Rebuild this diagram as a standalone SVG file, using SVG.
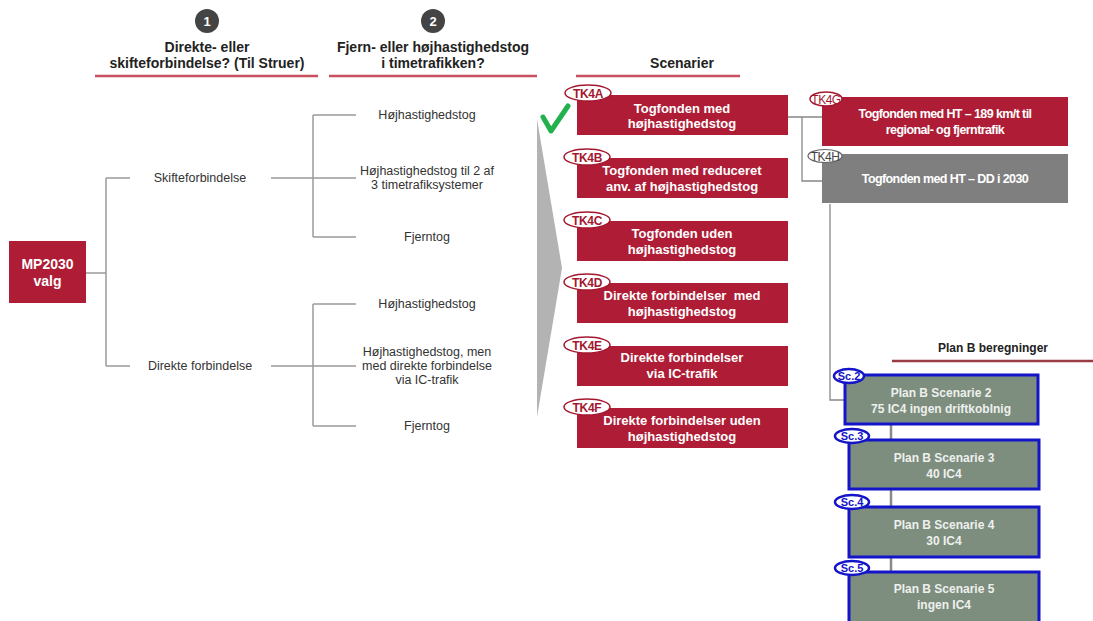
<svg xmlns="http://www.w3.org/2000/svg" width="1093" height="621" viewBox="0 0 1093 621">
<style>
.hd{font-family:"Liberation Sans",Arial,sans-serif;font-weight:bold;font-size:14px;fill:#222;text-anchor:middle}
.tr{font-family:"Liberation Sans",Arial,sans-serif;font-size:12.5px;fill:#333;text-anchor:middle}
.bx{font-family:"Liberation Sans",Arial,sans-serif;font-weight:bold;font-size:13px;fill:#fff;text-anchor:middle}
.bxn{font-family:"Liberation Sans",Arial,sans-serif;font-weight:bold;font-size:12.5px;fill:#fff;text-anchor:middle;letter-spacing:-0.6px}
.pb{font-family:"Liberation Sans",Arial,sans-serif;font-weight:bold;font-size:12px;fill:#eef0ee;text-anchor:middle}
.red{fill:#ae1c35}
.lbl{fill:#fff;stroke:#a3182f;stroke-width:1.5}
.lblt{font-family:"Liberation Sans",Arial,sans-serif;font-weight:bold;font-size:12px;fill:#a3182f;text-anchor:middle;letter-spacing:-0.3px}
.sc{fill:#7d8e7e;stroke:#1414c8;stroke-width:3}
.scl{fill:#fff;stroke:#1414c8;stroke-width:2.5}
.sclt{font-family:"Liberation Sans",Arial,sans-serif;font-weight:bold;font-size:11px;fill:#1414c8;text-anchor:middle}
.ln{fill:none;stroke:#9a9a9a;stroke-width:1.5}
.ln2{fill:none;stroke:#888;stroke-width:1.3}
.ul{stroke:#c8505f;stroke-width:2.5}
</style>
<rect width="1093" height="621" fill="#fff"/>

<g id="header1">
<circle cx="207" cy="21" r="12" fill="#444"/>
<text x="207" y="26" font-family="Liberation Sans,Arial,sans-serif" font-weight="bold" font-size="13" fill="#fff" text-anchor="middle">1</text>
<text class="hd" x="207" y="52">Direkte- eller</text>
<text class="hd" x="207" y="68">skifteforbindelse? (Til Struer)</text>
<line class="ul" x1="95" y1="76" x2="318" y2="76"/>
</g>
<g id="header2">
<circle cx="433" cy="21" r="12" fill="#444"/>
<text x="433" y="26" font-family="Liberation Sans,Arial,sans-serif" font-weight="bold" font-size="13" fill="#fff" text-anchor="middle">2</text>
<text class="hd" x="433" y="52">Fjern- eller højhastighedstog</text>
<text class="hd" x="433" y="68">i timetrafikken?</text>
<line class="ul" x1="329" y1="76" x2="537" y2="76"/>
</g>
<g id="header3">
<text class="hd" x="682" y="68">Scenarier</text>
<line class="ul" x1="576" y1="76" x2="740" y2="76"/>
</g>
<g id="header4">
<text class="hd" x="993" y="352" style="font-size:12px">Plan B beregninger</text>
<line x1="892" y1="361" x2="1093" y2="361" stroke="#9b3b44" stroke-width="2.5"/>
</g>

<g id="connectors">
<path class="ln" d="M86 273 H106 M106 178 V366 M106 178 H130 M106 366 H130"/>
<path class="ln" d="M271 178 H356 M313 115 V237 M313 115 H356 M313 237 H356"/>
<path class="ln" d="M271 366 H356 M313 304 V426 M313 304 H356 M313 426 H356"/>
<path class="ln2" d="M788 117 H822 M802 117 V181 H822"/>
<path class="ln2" d="M830 204 V400 H845"/>
<path d="M891 424 V439 M891 489 V507 M891 557 V572" stroke="#8a8a8a" stroke-width="2.5" fill="none"/>
</g>

<g id="mp2030">
<rect class="red" x="9" y="241" width="77" height="62"/>
<text class="bx" x="47.5" y="269" style="font-size:14px">MP2030</text>
<text class="bx" x="47.5" y="286" style="font-size:14px">valg</text>
</g>

<g id="skifte"><text class="tr" x="200" y="182">Skifteforbindelse</text></g>
<g id="direkte"><text class="tr" x="200" y="370">Direkte forbindelse</text></g>
<g id="s1"><text class="tr" x="427" y="119">Højhastighedstog</text></g>
<g id="s2"><text class="tr" x="427" y="175">Højhastighedstog til 2 af</text><text class="tr" x="427" y="189">3 timetrafiksystemer</text></g>
<g id="s3"><text class="tr" x="427" y="241">Fjerntog</text></g>
<g id="d1"><text class="tr" x="427" y="308">Højhastighedstog</text></g>
<g id="d2"><text class="tr" x="427" y="356">Højhastighedstog, men</text><text class="tr" x="427" y="370">med direkte forbindelse</text><text class="tr" x="427" y="384">via IC-trafik</text></g>
<g id="d3"><text class="tr" x="427" y="430">Fjerntog</text></g>

<g id="funnel"><polygon points="537,119 562,268 537,417" fill="#b3b3b3"/></g>
<g id="check"><path d="M543 117 L551 131 L568 106" fill="none" stroke="#22b14c" stroke-width="5" stroke-linecap="round" stroke-linejoin="round"/></g>

<g id="TK4A">
<rect class="red" x="577" y="95" width="211" height="40"/>
<text class="bx" x="682" y="113">Togfonden med</text>
<text class="bx" x="682" y="128">højhastighedstog</text>
<ellipse class="lbl" cx="588" cy="93" rx="23" ry="8"/>
<text class="lblt" x="588" y="97.5">TK4A</text>
</g>
<g id="TK4B">
<rect class="red" x="577" y="158" width="211" height="40"/>
<text class="bx" x="682" y="175">Togfonden med reduceret</text>
<text class="bx" x="682" y="191">anv. af højhastighedstog</text>
<ellipse class="lbl" cx="587" cy="157" rx="23" ry="8"/>
<text class="lblt" x="587" y="161.5">TK4B</text>
</g>
<g id="TK4C">
<rect class="red" x="577" y="221" width="211" height="40"/>
<text class="bx" x="682" y="238">Togfonden uden</text>
<text class="bx" x="682" y="254">højhastighedstog</text>
<ellipse class="lbl" cx="587" cy="220" rx="23" ry="8"/>
<text class="lblt" x="587" y="224.5">TK4C</text>
</g>
<g id="TK4D">
<rect class="red" x="577" y="283" width="211" height="40"/>
<text class="bx" x="682" y="300" xml:space="preserve">Direkte forbindelser  med</text>
<text class="bx" x="682" y="316">højhastighedstog</text>
<ellipse class="lbl" cx="587" cy="282" rx="23" ry="8"/>
<text class="lblt" x="587" y="286.5">TK4D</text>
</g>
<g id="TK4E">
<rect class="red" x="577" y="346" width="211" height="40"/>
<text class="bx" x="682" y="362">Direkte forbindelser</text>
<text class="bx" x="682" y="378">via IC-trafik</text>
<ellipse class="lbl" cx="587" cy="345" rx="23" ry="8"/>
<text class="lblt" x="587" y="349.5">TK4E</text>
</g>
<g id="TK4F">
<rect class="red" x="577" y="408" width="211" height="40"/>
<text class="bx" x="682" y="425">Direkte forbindelser uden</text>
<text class="bx" x="682" y="441">højhastighedstog</text>
<ellipse class="lbl" cx="587" cy="407" rx="23" ry="8"/>
<text class="lblt" x="587" y="411.5">TK4F</text>
</g>

<g id="TK4G">
<rect class="red" x="822" y="97" width="246" height="49"/>
<text class="bxn" x="945" y="118">Togfonden med HT – 189 km/t til</text>
<text class="bxn" x="945" y="134">regional- og fjerntrafik</text>
<ellipse cx="826" cy="99" rx="16" ry="7" fill="#fff" stroke="#a3182f" stroke-width="1.5"/>
<text x="826" y="103.5" font-family="Liberation Sans,Arial,sans-serif" font-size="12" fill="#a3182f" text-anchor="middle" letter-spacing="-0.5">TK4G</text>
</g>
<g id="TK4H">
<rect x="822" y="154" width="246" height="49" fill="#7f7f7f"/>
<text class="bxn" x="945" y="183">Togfonden med HT – DD i 2030</text>
<ellipse cx="825" cy="156" rx="17" ry="6.5" fill="#fff" stroke="#666" stroke-width="1.2"/>
<text x="825" y="160.5" font-family="Liberation Sans,Arial,sans-serif" font-size="12" fill="#444" text-anchor="middle" letter-spacing="-0.5">TK4H</text>
</g>

<g id="Sc2">
<rect class="sc" x="845" y="375" width="193" height="49"/>
<text class="pb" x="941" y="397">Plan B Scenarie 2</text>
<text class="pb" x="941" y="413">75 IC4 ingen driftkoblnig</text>
<ellipse class="scl" cx="849" cy="376" rx="15" ry="7"/>
<text class="sclt" x="849" y="380">Sc.2</text>
</g>
<g id="Sc3">
<rect class="sc" x="849" y="440" width="190" height="49"/>
<text class="pb" x="944" y="462">Plan B Scenarie 3</text>
<text class="pb" x="944" y="478">40 IC4</text>
<ellipse class="scl" cx="852" cy="436" rx="17" ry="7"/>
<text class="sclt" x="852" y="440">Sc.3</text>
</g>
<g id="Sc4">
<rect class="sc" x="849" y="507" width="190" height="50"/>
<text class="pb" x="944" y="529">Plan B Scenarie 4</text>
<text class="pb" x="944" y="545">30 IC4</text>
<ellipse class="scl" cx="852" cy="502" rx="17" ry="7"/>
<text class="sclt" x="852" y="506">Sc.4</text>
</g>
<g id="Sc5">
<rect class="sc" x="849" y="572" width="190" height="52"/>
<text class="pb" x="944" y="593">Plan B Scenarie 5</text>
<text class="pb" x="944" y="609">ingen IC4</text>
<ellipse class="scl" cx="852" cy="568" rx="17" ry="7"/>
<text class="sclt" x="852" y="572">Sc.5</text>
</g>
</svg>
